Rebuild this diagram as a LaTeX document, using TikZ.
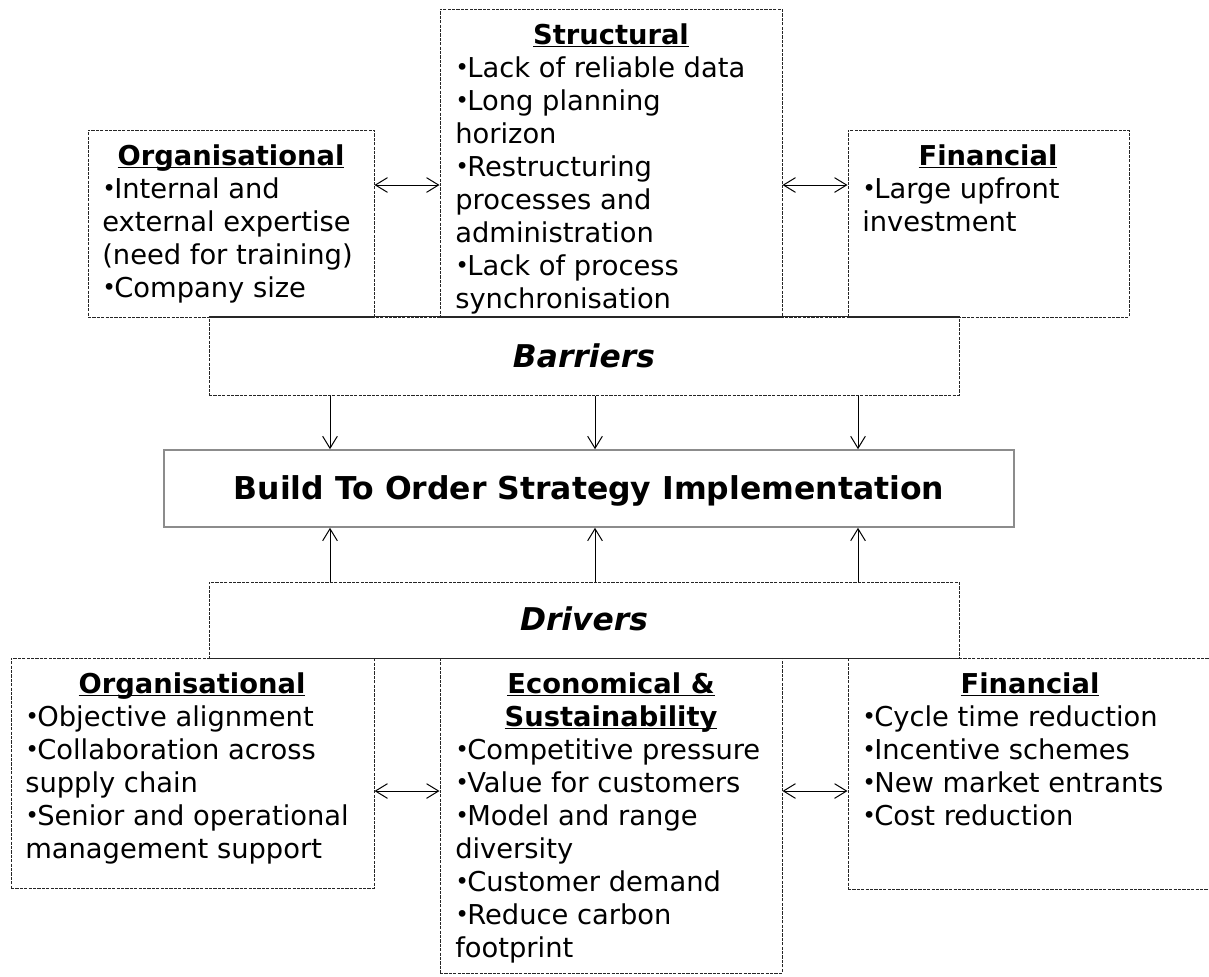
\documentclass[tikz,border=0pt]{standalone}
\usepackage{fontspec}
\setmainfont{DejaVu Sans}
\usetikzlibrary{arrows.meta,fit}
\newcommand\bul{\raisebox{0.04em}{\scalebox{0.85}{•}}\kern-0.06em}
\newcommand\hd[1]{\underline{\smash{#1}}}
\begin{document}
\begin{tikzpicture}[x=0.75pt,y=-0.75pt,
  box/.style={draw=black!85, line width=0.75pt, dash pattern=on 2.4pt off 0.9pt, inner sep=0},
  solidbox/.style={draw=black!45, line width=1.2pt, inner sep=0},
  body/.style={anchor=base west, inner sep=0, font=\fontsize{20.5}{24.75}\selectfont},
  head/.style={anchor=base, inner sep=0, font=\fontsize{20.5}{24.75}\selectfont\bfseries},
  big/.style={anchor=base, inner sep=0, font=\fontsize{23.6}{28}\selectfont\bfseries},
  bigit/.style={anchor=base, inner sep=0, font=\fontsize{23.5}{28}\selectfont\bfseries\itshape},
  arr/.style={-{Straight Barb[length=9pt,width=11pt]}, line width=0.75pt},
  dbl/.style={{Straight Barb[length=9pt,width=11pt]}-{Straight Barb[length=9pt,width=11pt]}, line width=0.75pt}]
\useasboundingbox (0,0) rectangle (1209,976);

% ---------- boxes ----------
\node[box, fit={(88,130) (374,317)}] (orgT) {};
\node[box, fit={(440,9) (782,317)}] (strT) {};
\node[box, fit={(848,130) (1129,317)}] (finT) {};
\node[box, fit={(209,317) (959,395)}] (barr) {};
\draw[line width=0.8pt, black!85] (barr.north west) -- (barr.north east);
\node[solidbox, fit={(164,450) (1014,527)}] (bto) {};
\node[box, fit={(209,582) (959,658)}] (drv) {};
\draw[line width=0.8pt, black!85] (drv.south west) -- (drv.south east);
\node[box, fit={(11,658) (374,888)}] (orgB) {};
\node[box, fit={(440,658) (782,973)}] (ecoB) {};
\node[box, fit={(848,658) (1212,889)}] (finB) {};

% ---------- texts ----------
\node[head] (orgTh) at (231,165) {\hd{Organisational}};
\node[body] (orgTt) at (102,198) {\begin{tabular}[t]{@{}l@{}}\bul Internal and\\external expertise\\(need for training)\\\bul Company size\end{tabular}};

\node[head] (strTh) at (611,44) {\hd{Structural}};
\node[body] (strTt) at (455,77) {\begin{tabular}[t]{@{}l@{}}\bul Lack of reliable data\\\bul Long planning\\horizon\\\bul Restructuring\\processes and\\administration\\\bul Lack of process\\synchronisation\end{tabular}};

\node[head] (finTh) at (988,165) {\hd{Financial}};
\node[body] (finTt) at (862,198) {\begin{tabular}[t]{@{}l@{}}\bul Large upfront\\investment\end{tabular}};

\node[bigit] (barrt) at (584,367) {Barriers};
\node[big] (btot) at (589,499) {Build To Order Strategy Implementation};
\node[bigit] (drvt) at (584,630) {Drivers};

\node[head] (orgBh) at (192,693) {\hd{Organisational}};
\node[body] (orgBt) at (25,726) {\begin{tabular}[t]{@{}l@{}}\bul Objective alignment\\\bul Collaboration across\\supply chain\\\bul Senior and operational\\management support\end{tabular}};

\node[head] (ecoBh1) at (611,693) {\hd{Economical \&}};
\node[head] (ecoBh2) at (611,726) {\hd{Sustainability}};
\node[body] (ecoBt) at (455,759) {\begin{tabular}[t]{@{}l@{}}\bul Competitive pressure\\\bul Value for customers\\\bul Model and range\\diversity\\\bul Customer demand\\\bul Reduce carbon\\footprint\end{tabular}};

\node[head] (finBh) at (1030,693) {\hd{Financial}};
\node[body] (finBt) at (862,726) {\begin{tabular}[t]{@{}l@{}}\bul Cycle time reduction\\\bul Incentive schemes\\\bul New market entrants\\\bul Cost reduction\end{tabular}};

% ---------- connectors ----------
\draw[dbl] (orgT.east |- 0,185) -- (strT.west |- 0,185);
\draw[dbl] (strT.east |- 0,185) -- (finT.west |- 0,185);
\draw[dbl] (orgB.east |- 0,791) -- (ecoB.west |- 0,791);
\draw[dbl] (ecoB.east |- 0,791) -- (finB.west |- 0,791);

\foreach \xx in {330,595,858}{
  \draw[arr] (barr.south -| \xx,0) -- (bto.north -| \xx,0);
  \draw[arr] (drv.north -| \xx,0) -- (bto.south -| \xx,0);
}
\end{tikzpicture}
\end{document}
